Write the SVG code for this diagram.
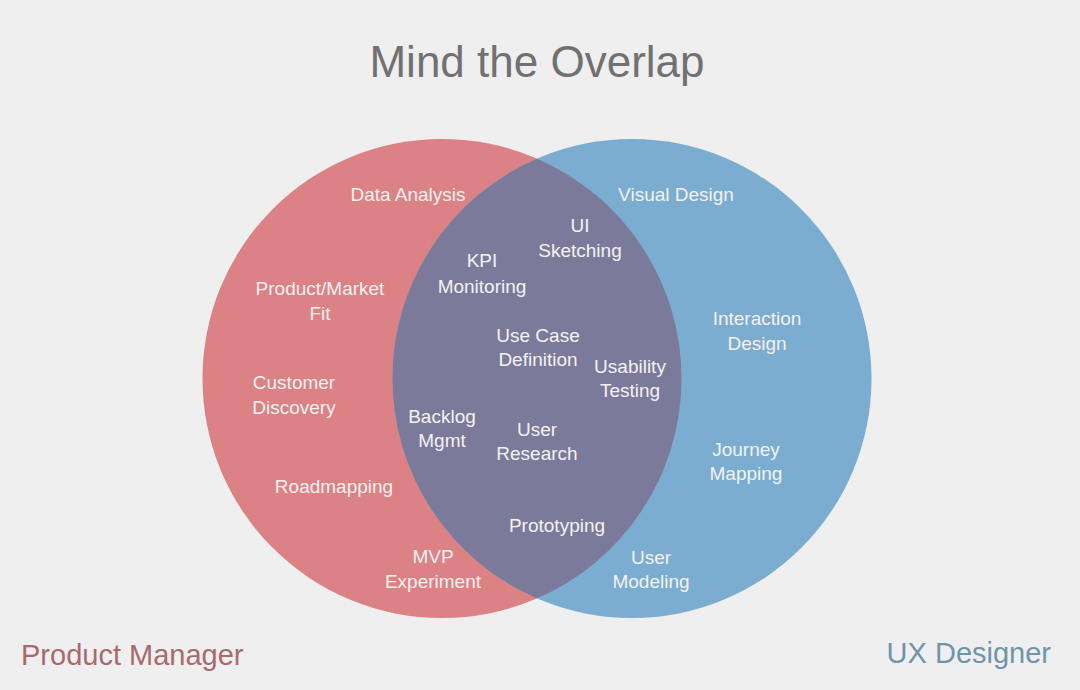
<svg xmlns="http://www.w3.org/2000/svg" width="1080" height="690" viewBox="0 0 1080 690">
<style>
.lbl{font-family:"Liberation Sans",Arial,sans-serif;font-size:19px;fill:#f6f1f3;text-anchor:middle}
.title{font-family:"Liberation Sans",Arial,sans-serif;font-size:44px;fill:#717171;text-anchor:middle}
.cap{font-family:"Liberation Sans",Arial,sans-serif;font-size:29px}
</style>
<rect width="1080" height="690" fill="#efefef"/>
<text class="title" x="537" y="77">Mind the Overlap</text>
<g id="product-manager">
<circle cx="442" cy="378.5" r="239.5" fill="#dc8184"/>
</g>
<g id="ux-designer">
<circle cx="632" cy="378.5" r="239.5" fill="#7aadcf"/>
</g>
<g id="overlap">
<path d="M537,158.65 A239.5,239.5 0 0 1 537,598.35 A239.5,239.5 0 0 1 537,158.65 Z" fill="#7b7a9a"/>
</g>
<g id="pm-labels">
<text class="lbl" x="408" y="201">Data Analysis</text>
<text class="lbl" x="320" y="295">Product/Market<tspan x="320" y="320">Fit</tspan></text>
<text class="lbl" x="294" y="389">Customer<tspan x="294" y="414">Discovery</tspan></text>
<text class="lbl" x="334" y="493">Roadmapping</text>
<text class="lbl" x="433" y="563">MVP<tspan x="433" y="588">Experiment</tspan></text>
</g>
<g id="overlap-labels">
<text class="lbl" x="580" y="232">UI<tspan x="580" y="257">Sketching</tspan></text>
<text class="lbl" x="482" y="267">KPI<tspan x="482" y="293">Monitoring</tspan></text>
<text class="lbl" x="538" y="342">Use Case<tspan x="538" y="366">Definition</tspan></text>
<text class="lbl" x="630" y="373">Usability<tspan x="630" y="397">Testing</tspan></text>
<text class="lbl" x="442" y="423">Backlog<tspan x="442" y="447">Mgmt</tspan></text>
<text class="lbl" x="537" y="436">User<tspan x="537" y="460">Research</tspan></text>
<text class="lbl" x="557" y="532">Prototyping</text>
</g>
<g id="ux-labels">
<text class="lbl" x="676" y="201">Visual Design</text>
<text class="lbl" x="757" y="325">Interaction<tspan x="757" y="350">Design</tspan></text>
<text class="lbl" x="746" y="456">Journey<tspan x="746" y="480">Mapping</tspan></text>
<text class="lbl" x="651" y="564">User<tspan x="651" y="588">Modeling</tspan></text>
</g>
<g id="connectors"/>
<text class="cap" x="21" y="665" fill="#a86a6d">Product Manager</text>
<text class="cap" x="1051" y="663" fill="#6f95ab" text-anchor="end" font-size="28">UX Designer</text>
</svg>
